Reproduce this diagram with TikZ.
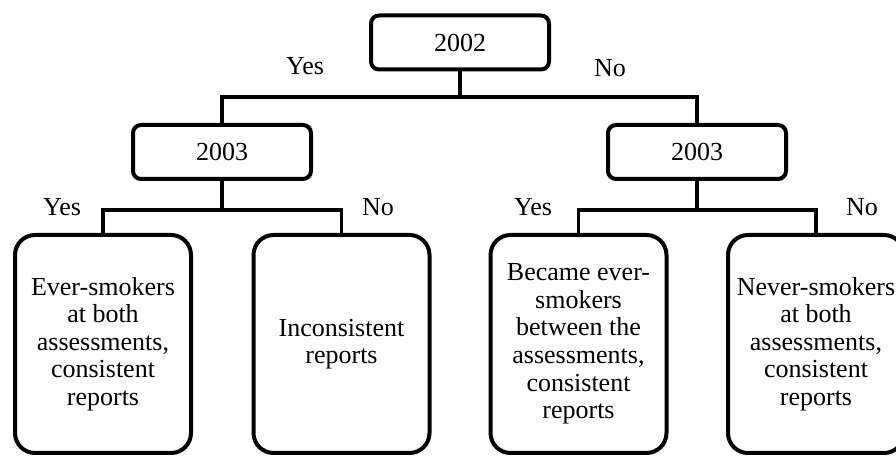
\documentclass[tikz,border=0pt]{standalone}
\usepackage{fontspec}
\setmainfont{Liberation Serif}
\usepackage{tikz}

\tikzset{
  yearbox/.style={draw,line width=2pt,rounded corners=4pt,minimum width=89pt,minimum height=27pt,inner sep=0pt},
  leafbox/.style={draw,line width=2pt,rounded corners=10pt,minimum width=88pt,minimum height=109pt,inner sep=0pt,align=center},
  branch/.style={line width=1.7pt},
  answer/.style={inner sep=0pt}
}

\begin{document}
\begin{tikzpicture}[x=0.5pt,y=-0.5pt,font=\fontsize{13}{13.8}\selectfont]
\useasboundingbox (0,0) rectangle (896,458);
\clip (0,0) rectangle (896,458);
% years
\node[yearbox] (y02) at (460,42.5) {2002};
\node[yearbox] (y03a) at (222,152) {2003};
\node[yearbox] (y03b) at (697,152) {2003};
% outcomes
\node[leafbox] (evr) at (103,344) {Ever-smokers\\at both\\assessments,\\consistent\\reports};
\node[leafbox] (inc) at (341.5,344) {Inconsistent\\reports};
\node[leafbox] (bec) at (578.5,344) {Became ever-\\smokers\\between the\\assessments,\\consistent\\reports};
\node[leafbox] (nev) at (816,344) {Never-smokers\\at both\\assessments,\\consistent\\reports};
% junctions
\coordinate (j0) at (460,97);
\coordinate (j1) at (222,210);
\coordinate (j2) at (697,210);
\draw[branch] (y02.south) -- (j0);
\draw[branch] (y03a.north) |- (j0) -| (y03b.north);
\draw[branch] (y03a.south) -- (j1);
\draw[branch] (evr.north) |- (j1) -| (inc.north);
\draw[branch] (y03b.south) -- (j2);
\draw[branch] (bec.north) |- (j2) -| (nev.north);
% answers
\node[answer] (ya) at (305,66) {Yes};
\node[answer] (na) at (610,68) {No};
\node[answer] (yb) at (62,207) {Yes};
\node[answer] (nb) at (378,207) {No};
\node[answer] (yc) at (533,207) {Yes};
\node[answer] (nc) at (862,207) {No};
\end{tikzpicture}
\end{document}
